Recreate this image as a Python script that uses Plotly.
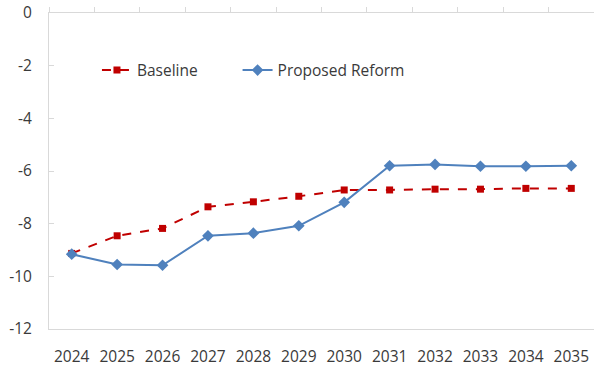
import plotly.graph_objects as go

years = ["2024", "2025", "2026", "2027", "2028", "2029",
         "2030", "2031", "2032", "2033", "2034", "2035"]
baseline = [-9.13, -8.46, -8.18, -7.36, -7.17, -6.96,
            -6.72, -6.72, -6.69, -6.69, -6.66, -6.66]
reform = [-9.16, -9.55, -9.58, -8.46, -8.36, -8.08,
          -7.19, -5.80, -5.75, -5.82, -5.82, -5.80]
y_ticks = [0, -2, -4, -6, -8, -10, -12]
y_ticktext = ["0", "-2", "-4", "-6", "-8", "-10", "-12"]

RED = "#C00000"
BLUE = "#4F81BD"
AXIS = "#D9D9D9"
TEXT = "#3A3A3A"
FONT = "Open Sans"
SIZE = 15.5

fig = go.Figure()

fig.add_trace(go.Scatter(
    x=years, y=baseline, name="Baseline", mode="lines+markers",
    line=dict(color=RED, width=2, dash="dash"),
    marker=dict(symbol="square", size=7, color=RED),
    legend="legend",
))
fig.add_trace(go.Scatter(
    x=years, y=reform, name="Proposed Reform", mode="lines+markers",
    line=dict(color=BLUE, width=2),
    marker=dict(symbol="diamond", size=9, color=BLUE),
    legend="legend2",
))
# carrier for the category axis drawn along y = 0
fig.add_trace(go.Scatter(
    x=years, y=[None] * len(years), xaxis="x2", mode="lines",
    showlegend=False, hoverinfo="skip",
))

legend_style = dict(
    orientation="h", xanchor="left", y=0.818, yanchor="middle",
    font=dict(family=FONT, size=SIZE, color=TEXT),
    bgcolor="rgba(0,0,0,0)", itemclick=False, itemdoubleclick=False,
)

fig.update_layout(
    width=594, height=367,
    margin=dict(l=49, r=0, t=13, b=34),
    paper_bgcolor="white", plot_bgcolor="white",
    font=dict(family=FONT, size=SIZE, color=TEXT),
    showlegend=True,
    legend=dict(x=0.088, **legend_style),
    legend2=dict(x=0.346, **legend_style),
    xaxis=dict(
        type="category", categoryorder="array", categoryarray=years,
        range=[-0.5, 11.5], showgrid=False, zeroline=False,
        showline=True, linecolor=AXIS, linewidth=1,
        ticks="", ticklabelstandoff=13,
        tickfont=dict(family=FONT, size=SIZE, color=TEXT),
    ),
    xaxis2=dict(
        type="category", categoryorder="array", categoryarray=years,
        range=[-0.5, 11.5], overlaying="x", side="top", anchor="y",
        showgrid=False, zeroline=False, showticklabels=False,
        showline=True, linecolor=AXIS, linewidth=1,
        ticks="outside", tickson="boundaries", ticklen=5,
        tickcolor=AXIS, tickwidth=1,
    ),
    yaxis=dict(
        range=[-12, 0], tickvals=y_ticks, ticktext=y_ticktext,
        showgrid=False, zeroline=False,
        showline=True, linecolor=AXIS, linewidth=1,
        ticks="inside", ticklen=5, tickcolor=AXIS, tickwidth=1,
        ticklabelstandoff=13,
        tickfont=dict(family=FONT, size=SIZE, color=TEXT),
    ),
)

fig.write_html("out.html")
